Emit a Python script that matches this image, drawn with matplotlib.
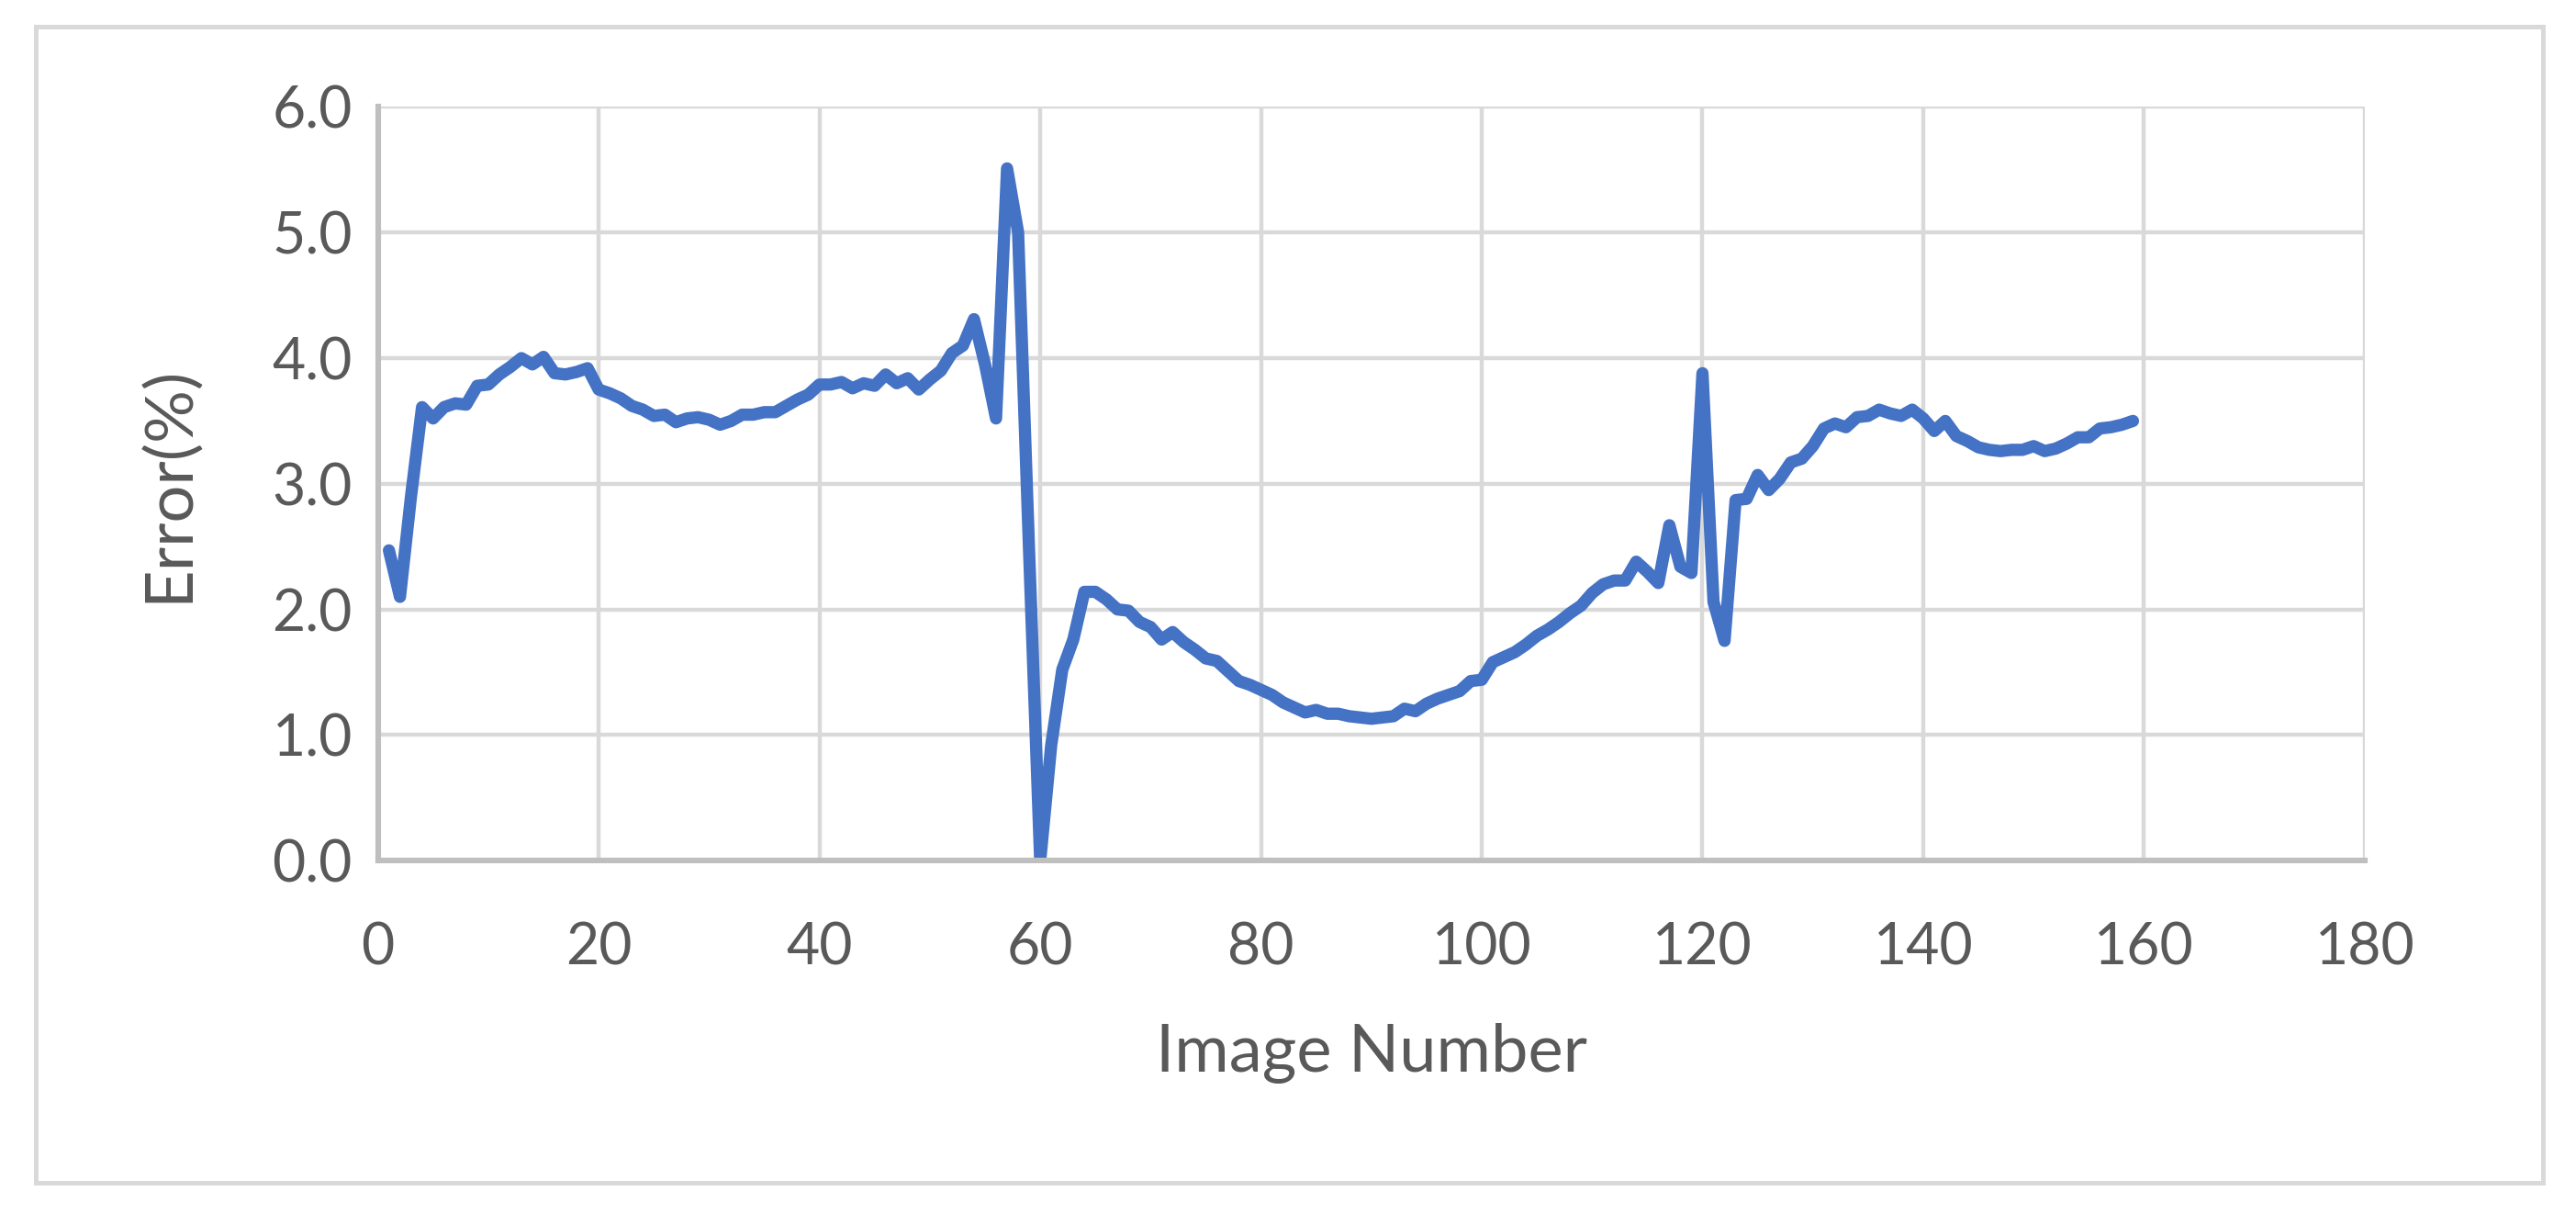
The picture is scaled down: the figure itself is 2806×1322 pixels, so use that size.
import matplotlib.pyplot as plt
from matplotlib.patches import Rectangle

# image number 1..159 and error values
image_number = list(range(1, 160))
error_pct = [
    2.47, 2.10, 2.90, 3.61, 3.52, 3.61, 3.64, 3.63, 3.78, 3.79,
    3.87, 3.93, 4.00, 3.95, 4.01, 3.88, 3.87, 3.89, 3.92, 3.75,
    3.72, 3.68, 3.62, 3.59, 3.54, 3.55, 3.49, 3.52, 3.53, 3.51,
    3.47, 3.50, 3.55, 3.55, 3.57, 3.57, 3.62, 3.67, 3.71, 3.79,
    3.79, 3.81, 3.76, 3.80, 3.78, 3.87, 3.80, 3.84, 3.75, 3.83,
    3.90, 4.04, 4.10, 4.31, 3.95, 3.52, 5.51, 5.00, 2.45, 0.00,
    0.92, 1.52, 1.76, 2.14, 2.14, 2.08, 2.00, 1.99, 1.90, 1.86,
    1.76, 1.82, 1.74, 1.68, 1.61, 1.59, 1.51, 1.43, 1.40, 1.36,
    1.32, 1.26, 1.22, 1.18, 1.20, 1.17, 1.17, 1.15, 1.14, 1.13,
    1.14, 1.15, 1.21, 1.19, 1.25, 1.29, 1.32, 1.35, 1.43, 1.44,
    1.58, 1.62, 1.66, 1.72, 1.79, 1.84, 1.90, 1.97, 2.03, 2.13,
    2.20, 2.23, 2.23, 2.38, 2.30, 2.21, 2.67, 2.34, 2.29, 3.88,
    2.06, 1.75, 2.87, 2.88, 3.07, 2.95, 3.04, 3.17, 3.20, 3.30,
    3.44, 3.48, 3.45, 3.53, 3.54, 3.59, 3.56, 3.54, 3.59, 3.52,
    3.42, 3.50, 3.38, 3.34, 3.29, 3.27, 3.26, 3.27, 3.27, 3.30,
    3.26, 3.28, 3.32, 3.37, 3.37, 3.44, 3.45, 3.47, 3.50,
]

x_ticks = list(range(0, 181, 20))
y_ticks = [0, 1, 2, 3, 4, 5, 6]

plt.rcParams['font.family'] = ['Lato', 'DejaVu Sans']
txt_color = '#595959'
grid_color = '#D9D9D9'

fig = plt.figure(figsize=(14.03, 6.61), dpi=200)
ax = fig.add_axes([0.1467, 0.291, 0.918 - 0.1467, 0.912 - 0.291])

ax.plot(image_number, error_pct, color='#4472C4', lw=4.8,
        solid_joinstyle='round', solid_capstyle='round', zorder=3)

ax.set_xlim(0, 180)
ax.set_ylim(0, 6)
ax.set_xticks(x_ticks)
ax.set_yticks(y_ticks)
ax.set_yticklabels([f"{v:.1f}" for v in y_ticks])
ax.grid(True, color=grid_color, lw=1.6)
ax.set_axisbelow(True)

for side in ['top', 'right']:
    ax.spines[side].set_visible(False)
for side in ['left', 'bottom']:
    ax.spines[side].set_color('#BFBFBF')
    ax.spines[side].set_linewidth(2.2)
    ax.spines[side].set_zorder(4)

ax.tick_params(axis='both', length=0, labelsize=22.5, labelcolor=txt_color)
ax.tick_params(axis='y', pad=10)
ax.tick_params(axis='x', pad=24)

ax.set_xlabel("Image Number", fontsize=26, color=txt_color)
ax.xaxis.set_label_coords(0.5, -0.215)
ax.set_ylabel("Error(%)", fontsize=26, color=txt_color)
ax.yaxis.set_label_coords(-0.09, 0.5)

# light border around the whole chart
fig.patches.append(Rectangle((0.014, 0.026), 0.973, 0.952, transform=fig.transFigure,
                             fill=False, edgecolor=grid_color, lw=1.8))

fig.savefig("out.png", dpi=200, facecolor='white')
